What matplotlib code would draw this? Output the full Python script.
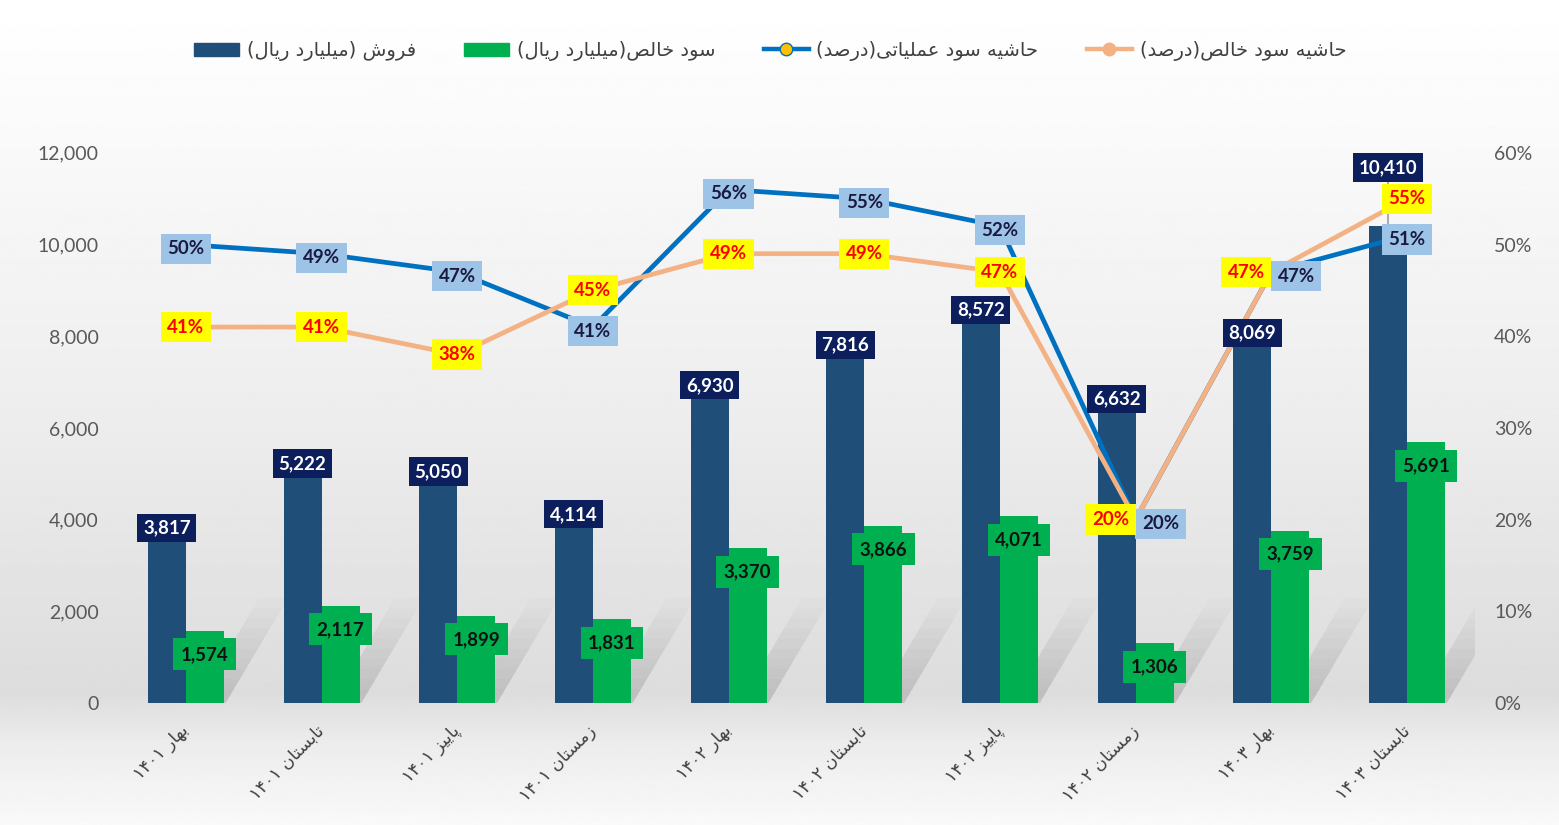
import re
import numpy as np
import matplotlib
matplotlib.use("Agg")
import matplotlib.pyplot as plt
from matplotlib.patches import Patch, Polygon
from matplotlib.lines import Line2D
from matplotlib.ticker import FuncFormatter, PercentFormatter

# data
quarters = ['بهار ۱۴۰۱', 'تابستان ۱۴۰۱', 'پاییز ۱۴۰۱', 'زمستان ۱۴۰۱',
            'بهار ۱۴۰۲', 'تابستان ۱۴۰۲', 'پاییز ۱۴۰۲', 'زمستان ۱۴۰۲',
            'بهار ۱۴۰۳', 'تابستان ۱۴۰۳']
sales = [3817, 5222, 5050, 4114, 6930, 7816, 8572, 6632, 8069, 10410]
net_profit = [1574, 2117, 1899, 1831, 3370, 3866, 4071, 1306, 3759, 5691]
op_margin = [50, 49, 47, 41, 56, 55, 52, 20, 47, 51]
net_margin = [41, 41, 38, 45, 49, 49, 47, 20, 47, 55]
series_names = ['فروش (میلیارد ریال)', 'سود خالص(میلیارد ریال)',
                'حاشیه سود عملیاتی(درصد)', 'حاشیه سود خالص(درصد)']

# --- minimal Persian shaping (matplotlib has no RTL/joining support) ---
FORMS = {
    'ا': ('\uFE8D', '\uFE8E'), 'د': ('\uFEA9', '\uFEAA'),
    'ر': ('\uFEAD', '\uFEAE'), 'ز': ('\uFEAF', '\uFEB0'),
    'و': ('\uFEED', '\uFEEE'),
    'ب': ('\uFE8F', '\uFE90', '\uFE91', '\uFE92'),
    'پ': ('\uFB56', '\uFB57', '\uFB58', '\uFB59'),
    'ت': ('\uFE95', '\uFE96', '\uFE97', '\uFE98'),
    'ح': ('\uFEA1', '\uFEA2', '\uFEA3', '\uFEA4'),
    'خ': ('\uFEA5', '\uFEA6', '\uFEA7', '\uFEA8'),
    'س': ('\uFEB1', '\uFEB2', '\uFEB3', '\uFEB4'),
    'ش': ('\uFEB5', '\uFEB6', '\uFEB7', '\uFEB8'),
    'ص': ('\uFEB9', '\uFEBA', '\uFEBB', '\uFEBC'),
    'ع': ('\uFEC9', '\uFECA', '\uFECB', '\uFECC'),
    'ف': ('\uFED1', '\uFED2', '\uFED3', '\uFED4'),
    'ل': ('\uFEDD', '\uFEDE', '\uFEDF', '\uFEE0'),
    'م': ('\uFEE1', '\uFEE2', '\uFEE3', '\uFEE4'),
    'ن': ('\uFEE5', '\uFEE6', '\uFEE7', '\uFEE8'),
    'ه': ('\uFEE9', '\uFEEA', '\uFEEB', '\uFEEC'),
    'ی': ('\uFBFC', '\uFBFD', '\uFBFE', '\uFBFF'),
}


def fa(text):
    text = text.replace('\u064A', '\u06CC')
    out = []
    for i, c in enumerate(text):
        if c not in FORMS:
            out.append(c)
            continue
        f = FORMS[c]
        prev = text[i - 1] if i > 0 else ''
        nxt = text[i + 1] if i + 1 < len(text) else ''
        jp = prev in FORMS and len(FORMS[prev]) == 4
        jn = len(f) == 4 and nxt in FORMS
        if jp and jn:
            out.append(f[3])
        elif jp:
            out.append(f[1])
        elif jn:
            out.append(f[2])
        else:
            out.append(f[0])
    shaped = ''.join(out)
    swap = str.maketrans('()', ')(')
    parts = re.findall(r'[0-9\u06F0-\u06F9]+|[^0-9\u06F0-\u06F9]+', shaped)
    parts = [p if re.match(r'[0-9\u06F0-\u06F9]', p) else p[::-1].translate(swap)
             for p in parts]
    return ''.join(parts[::-1])


FA_FONT = ['DejaVu Sans']
NUM_FONT = ['Lato', 'DejaVu Sans']
plt.rcParams['font.family'] = NUM_FONT

fig = plt.figure(figsize=(15.59, 8.25), dpi=100)

# soft grey gradient background
bg = fig.add_axes([0, 0, 1, 1], zorder=-1)
yy = np.linspace(0, 1, 400)
shade = np.interp(yy, [0, 0.12, 0.5, 0.84, 0.9, 1.0],
                  [1.0, 0.985, 0.93, 0.865, 0.925, 0.978])
bg.imshow(np.repeat(shade[:, None], 2, axis=1), cmap='gray', vmin=0, vmax=1,
          aspect='auto', extent=[0, 1, 1, 0])
bg.axis('off')

ax = fig.add_axes([0.0757, 0.148, 0.8703, 0.6667])
ax.patch.set_alpha(0)
x = np.arange(len(quarters))
w = 0.28

# faint blurred slanted shadows behind each bar pair
for xi in x:
    for k in range(10):
        h = 300 + k * 220
        dx = h / 2000 * 0.4
        ax.add_patch(Polygon([(xi + w * 0.3, 0), (xi + w * 1.05, 0),
                              (xi + w * 1.05 + dx, h), (xi + w * 0.3 + dx, h)],
                             closed=True, fc='#5a5a5a', ec='none',
                             alpha=0.018, zorder=1))

ax.bar(x - w / 2, sales, w, color='#1F4E79', zorder=2)
ax.bar(x + w / 2, net_profit, w, color='#00B050', zorder=2)
ax.set_xlim(-0.5, len(quarters) - 0.5)
ax.set_ylim(0, 12000)
ax.set_yticks(range(0, 12001, 2000))
ax.yaxis.set_major_formatter(FuncFormatter(lambda v, _: f'{v:,.0f}'))
ax.tick_params(axis='y', length=0, pad=14, labelsize=14, labelcolor='#595959')
ax.set_xticks(x)
ax.set_xticklabels([fa(q) for q in quarters], rotation=45, ha='right',
                   va='center', rotation_mode='anchor', family=FA_FONT,
                   fontsize=12.5, color='#404040')
ax.tick_params(axis='x', length=0, pad=18)
for s in ax.spines.values():
    s.set_visible(False)

ax2 = ax.twinx()
ax2.plot(x, np.array(op_margin) / 100, color='#0070C0', lw=3.4, zorder=3)
ax2.plot(x, np.array(net_margin) / 100, color='#F4B183', lw=3.4, zorder=3)
ax2.set_ylim(0, 0.6)
ax2.set_yticks(np.arange(0, 0.61, 0.1))
ax2.yaxis.set_major_formatter(PercentFormatter(1.0, decimals=0))
ax2.tick_params(axis='y', length=0, pad=14, labelsize=14, labelcolor='#595959')
for s in ax2.spines.values():
    s.set_visible(False)

# data labels
for i, v in enumerate(sales):
    lift = 42 if i == len(sales) - 1 else 0
    ax2.annotate(f'{v:,}', (x[i] - w / 2, v / 20000), xytext=(0, lift),
                 textcoords='offset points', ha='center', va='center',
                 color='white', fontsize=13.5, weight='bold', zorder=6,
                 bbox=dict(boxstyle='square,pad=0.3', fc='#0C1E5B', ec='none'),
                 arrowprops=dict(arrowstyle='-', color='#8c8c8c', lw=1,
                                 shrinkA=0, shrinkB=0) if lift else None)
for i, v in enumerate(net_profit):
    ax2.annotate(f'{v:,}', (x[i] + w / 2, v / 20000), xytext=(0, -17),
                 textcoords='offset points', ha='center', va='center',
                 color='#111111', fontsize=13.5, weight='bold', zorder=5,
                 bbox=dict(boxstyle='square,pad=0.4', fc='#00B050', ec='none'))

op_dx = [0, 0, 0, 0, 0, 0, 0, 18, 18, 0]
net_dx = [0, 0, 0, 0, 0, 0, 0, -18, -18, 0]
for i, v in enumerate(op_margin):
    ax2.annotate(f'{v}%', (x[i], v / 100), xytext=(op_dx[i], -3),
                 textcoords='offset points', ha='center', va='center',
                 color='#1a1a40', fontsize=13.5, weight='bold', zorder=7,
                 bbox=dict(boxstyle='square,pad=0.35', fc='#9DC3E6', ec='none'))
for i, v in enumerate(net_margin):
    ax2.annotate(f'{v}%', (x[i], v / 100), xytext=(net_dx[i], 0),
                 textcoords='offset points', ha='center', va='center',
                 color='#FF0000', fontsize=13.5, weight='bold', zorder=7,
                 bbox=dict(boxstyle='square,pad=0.35', fc='#FFFF00', ec='none'))

handles = [
    Patch(color='#1F4E79'),
    Patch(color='#00B050'),
    Line2D([], [], color='#0070C0', lw=3.2, marker='o', ms=9,
           mfc='#FFC000', mec='#0070C0'),
    Line2D([], [], color='#F4B183', lw=3.2, marker='o', ms=9,
           mfc='#F4B183', mec='#F4B183'),
]
leg = fig.legend(handles, [fa(n) for n in series_names], loc='center',
                 bbox_to_anchor=(0.494, 0.938), ncol=4, frameon=False,
                 handlelength=2.3, columnspacing=2.5, handletextpad=0.4,
                 prop={'family': FA_FONT, 'size': 14})
for t in leg.get_texts():
    t.set_color('#404040')

fig.savefig('out.png', dpi=100)
